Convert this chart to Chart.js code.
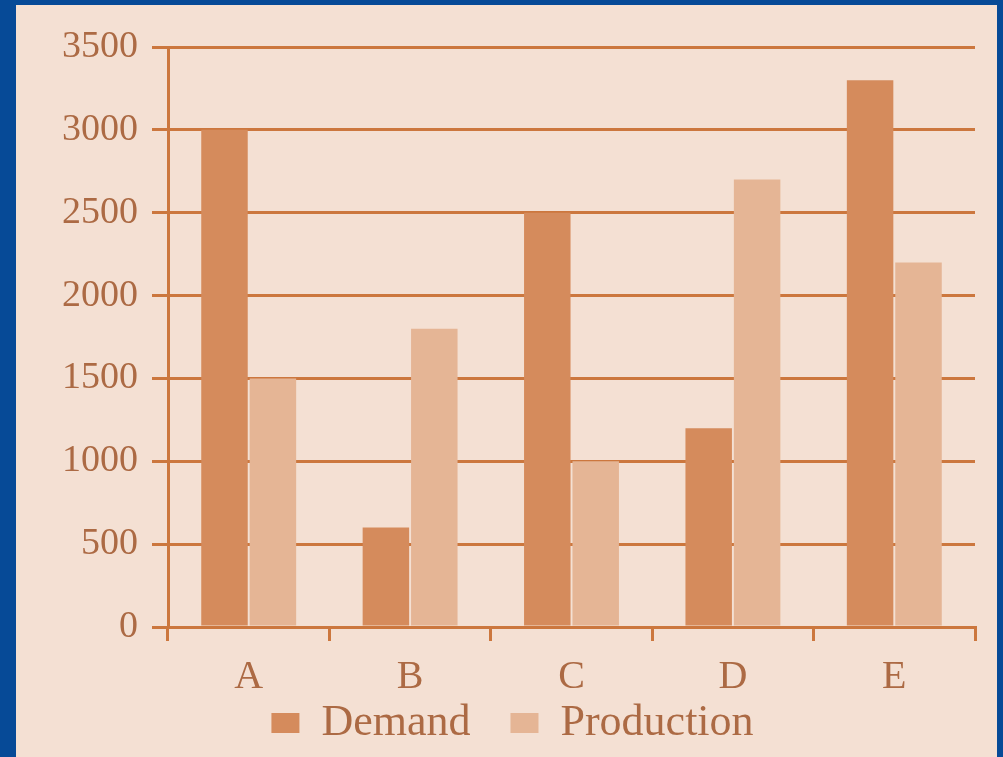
<!DOCTYPE html>
<html>
<head>
<meta charset="utf-8">
<script src="https://cdn.jsdelivr.net/npm/chart.js@4"></script>
<style>
  html, body { margin: 0; padding: 0; background: #064a97; overflow: hidden; }
  #page {
    position: absolute; left: 16px; top: 5px; width: 981px; height: 752px;
    background: #f4e0d3; overflow: hidden;
  }
  #edge { position: absolute; left: 997px; top: 0; width: 40px; height: 757px; background: #064a97; }
  canvas { display: block; }
</style>
</head>
<body>
<div id="page"><canvas id="myChart" width="981" height="752"></canvas></div>
<div id="edge"></div>
<script>
const categories = ["A", "B", "C", "D", "E"];
const demand = [3000, 600, 2500, 1200, 3300];
const production = [1500, 1800, 1000, 2700, 2200];
const yTicks = [0, 500, 1000, 1500, 2000, 2500, 3000, 3500];

const lineColor = '#cc773e';
const textColor = '#ac6a44';

const ctx = document.getElementById("myChart").getContext("2d");

let chart = new Chart(ctx, {
    type: 'bar',
    data: {
        labels: categories,
        datasets: [{
            label: 'Demand',
            data: demand,
            backgroundColor: '#d58b5c',
            categoryPercentage: 0.6,
            barPercentage: 0.96
        }, {
            label: 'Production',
            data: production,
            backgroundColor: '#e5b595',
            categoryPercentage: 0.6,
            barPercentage: 0.96
        }]
    },
    options: {
        responsive: false,
        animation: false,
        layout: { padding: { top: 42, right: 22, bottom: 2, left: 34 } },
        plugins: {
            tooltip: { enabled: false },
            legend: {
                position: 'bottom',
                labels: {
                    color: textColor,
                    font: { family: 'Liberation Serif', size: 44 },
                    boxWidth: 28,
                    boxHeight: 20,
                    padding: 40
                }
            }
        },
        scales: {
            x: {
                grid: {
                    drawOnChartArea: false,
                    color: lineColor,
                    lineWidth: 3,
                    tickLength: 14,
                    offset: true
                },
                border: { color: lineColor, width: 3 },
                ticks: {
                    color: textColor,
                    font: { family: 'Liberation Serif', size: 40 },
                    mirror: true,
                    padding: -74
                },
                afterFit: s => { s.height = 34; }
            },
            y: {
                min: 0,
                max: 3500,
                afterBuildTicks: s => { s.ticks = yTicks.map(v => ({ value: v })); },
                grid: {
                    color: lineColor,
                    lineWidth: 3,
                    tickLength: 16
                },
                border: { color: lineColor, width: 3 },
                ticks: {
                    color: textColor,
                    font: { family: 'Liberation Serif', size: 38 },
                    padding: 14,
                    callback: v => String(v)
                },
                afterFit: s => { s.width = 118; }
            }
        }
    }
});
</script>
</body>
</html>
